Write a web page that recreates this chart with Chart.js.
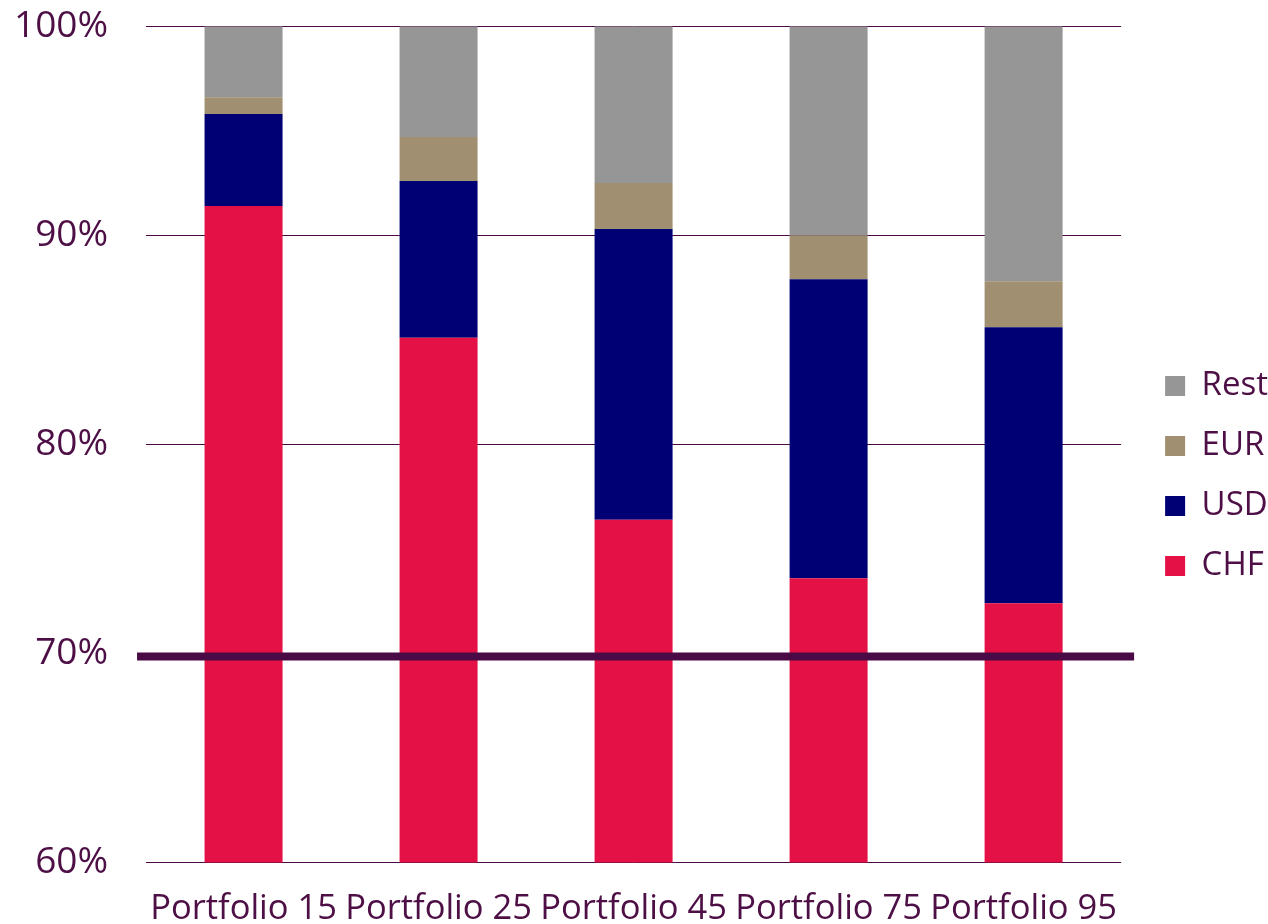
<!DOCTYPE html>
<html>
<head>
<meta charset="utf-8">
<script src="https://cdn.jsdelivr.net/npm/chart.js@4.4.1/dist/chart.umd.min.js"></script>
<style>
    html, body { margin: 0; padding: 0; background: #fff; }
    #wrap { width: 1268px; height: 924px; }
</style>
</head>
<body>
<div id="wrap"><canvas id="bar" width="1268" height="924"></canvas></div>
<script>
    // data (percent of portfolio)
    var categories = ['Portfolio 15', 'Portfolio 25', 'Portfolio 45', 'Portfolio 75', 'Portfolio 95'];
    var chfValues = [91.4, 85.1, 76.4, 73.6, 72.4];
    var usdValues = [4.4, 7.5, 13.9, 14.3, 13.2];
    var eurValues = [0.8, 2.1, 2.2, 2.1, 2.2];
    var restValues = [3.4, 5.3, 7.5, 10.0, 12.2];
    var yTicks = [60, 70, 80, 90, 100];
    var thresholdValue = 69.86;

    var textColor = '#4d0f45';
    var lineColor = '#4a0a45';

    // thick 70% line across the bars
    var thresholdLine = {
        id: 'thresholdLine',
        afterDatasetsDraw: function (chart) {
            var ctx = chart.ctx;
            var area = chart.chartArea;
            var y = chart.scales.y.getPixelForValue(thresholdValue);
            ctx.save();
            ctx.strokeStyle = lineColor;
            ctx.lineWidth = 8;
            ctx.beginPath();
            ctx.moveTo(area.left - 9, y);
            ctx.lineTo(area.right + 13, y);
            ctx.stroke();
            ctx.restore();
        }
    };

    function generateChart() {
        var barData = {
            labels: categories,
            datasets: [
                { label: 'CHF', data: chfValues, backgroundColor: '#e31145' },
                { label: 'USD', data: usdValues, backgroundColor: '#000075' },
                { label: 'EUR', data: eurValues, backgroundColor: '#a08f71' },
                { label: 'Rest', data: restValues, backgroundColor: '#969696' }
            ]
        };

        var ctx = document.getElementById('bar').getContext('2d');
        new Chart(ctx, {
            type: 'bar',
            data: barData,
            plugins: [thresholdLine],
            options: {
                responsive: false,
                animation: false,
                devicePixelRatio: 1,
                barPercentage: 0.4,
                categoryPercentage: 1,
                layout: { padding: { top: 4, right: -10, left: 10, bottom: -24 } },
                plugins: {
                    tooltip: { enabled: false },
                    legend: {
                        position: 'right',
                        reverse: true,
                        labels: {
                            color: textColor,
                            font: { family: 'Open Sans', size: 33 },
                            boxWidth: 20,
                            boxHeight: 20,
                            padding: 27
                        }
                    }
                },
                scales: {
                    x: {
                        stacked: true,
                        grid: { display: false },
                        border: { display: false },
                        ticks: {
                            color: textColor,
                            font: { family: 'Open Sans', size: 34.5 },
                            maxRotation: 0,
                            autoSkip: false,
                            padding: 18
                        }
                    },
                    y: {
                        stacked: true,
                        min: yTicks[0],
                        max: yTicks[yTicks.length - 1],
                        afterBuildTicks: function (axis) {
                            axis.ticks = yTicks.map(function (v) { return { value: v }; });
                        },
                        grid: { color: lineColor, lineWidth: 1, drawTicks: true, tickLength: 34, tickColor: 'rgba(0,0,0,0)' },
                        border: { display: false },
                        ticks: {
                            color: textColor,
                            font: { family: 'Open Sans', size: 37 },
                            padding: 4,
                            callback: function (v) { return v + '%'; }
                        }
                    },
                    // empty spacer between plot and legend
                    gap: {
                        type: 'linear',
                        position: 'right',
                        display: true,
                        grid: { display: false },
                        border: { display: false },
                        ticks: { display: false },
                        afterFit: function (axis) { axis.width = 17; }
                    }
                }
            }
        });
    }

    generateChart();
</script>
</body>
</html>
